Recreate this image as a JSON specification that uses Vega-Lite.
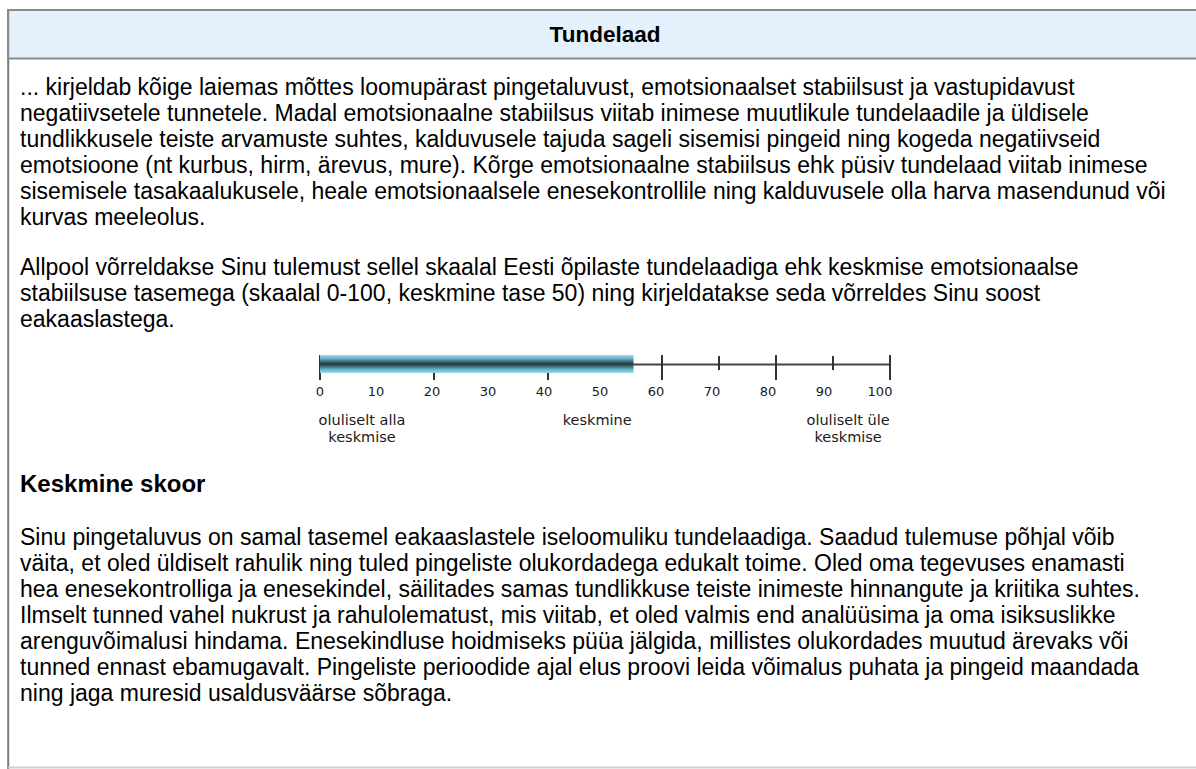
{
  "$schema": "https://vega.github.io/schema/vega-lite/v6.json",
  "width": 1196,
  "height": 769,
  "autosize": {"type": "fit", "contains": "padding"},
  "padding": 0,
  "background": "white",
  "config": {"view": {"stroke": null}},
  "datasets": {
    "para1": [
      {"line": 0, "text": "... kirjeldab kõige laiemas mõttes loomupärast pingetaluvust, emotsionaalset stabiilsust ja vastupidavust"},
      {"line": 1, "text": "negatiivsetele tunnetele. Madal emotsionaalne stabiilsus viitab inimese muutlikule tundelaadile ja üldisele"},
      {"line": 2, "text": "tundlikkusele teiste arvamuste suhtes, kalduvusele tajuda sageli sisemisi pingeid ning kogeda negatiivseid"},
      {"line": 3, "text": "emotsioone (nt kurbus, hirm, ärevus, mure). Kõrge emotsionaalne stabiilsus ehk püsiv tundelaad viitab inimese"},
      {"line": 4, "text": "sisemisele tasakaalukusele, heale emotsionaalsele enesekontrollile ning kalduvusele olla harva masendunud või"},
      {"line": 5, "text": "kurvas meeleolus."},
      {"line": 6.92, "text": "Allpool võrreldakse Sinu tulemust sellel skaalal Eesti õpilaste tundelaadiga ehk keskmise emotsionaalse"},
      {"line": 7.92, "text": "stabiilsuse tasemega (skaalal 0-100, keskmine tase 50) ning kirjeldatakse seda võrreldes Sinu soost"},
      {"line": 8.92, "text": "eakaaslastega."},
      {"line": 17.3, "text": "Sinu pingetaluvus on samal tasemel eakaaslastele iseloomuliku tundelaadiga. Saadud tulemuse põhjal võib"},
      {"line": 18.3, "text": "väita, et oled üldiselt rahulik ning tuled pingeliste olukordadega edukalt toime. Oled oma tegevuses enamasti"},
      {"line": 19.3, "text": "hea enesekontrolliga ja enesekindel, säilitades samas tundlikkuse teiste inimeste hinnangute ja kriitika suhtes."},
      {"line": 20.3, "text": "Ilmselt tunned vahel nukrust ja rahulolematust, mis viitab, et oled valmis end analüüsima ja oma isiksuslikke"},
      {"line": 21.3, "text": "arenguvõimalusi hindama. Enesekindluse hoidmiseks püüa jälgida, millistes olukordades muutud ärevaks või"},
      {"line": 22.3, "text": "tunned ennast ebamugavalt. Pingeliste perioodide ajal elus proovi leida võimalus puhata ja pingeid maandada"},
      {"line": 23.3, "text": "ning jaga muresid usaldusväärse sõbraga."}
    ],
    "headings": [
      {"line": 15.27, "text": "Keskmine skoor"}
    ],
    "header": [
      {"line": -2.04, "text": "Tundelaad"}
    ],
    "score": [
      {"score": 55}
    ],
    "majorTicks": [
      {"v": 0}, {"v": 20}, {"v": 40}, {"v": 60}, {"v": 80}, {"v": 100}
    ],
    "minorTicks": [
      {"v": 10}, {"v": 30}, {"v": 50}, {"v": 70}, {"v": 90}
    ],
    "tickLabels": [
      {"v": 0, "label": "0"}, {"v": 10, "label": "10"}, {"v": 20, "label": "20"},
      {"v": 30, "label": "30"}, {"v": 40, "label": "40"}, {"v": 50, "label": "50"},
      {"v": 60, "label": "60"}, {"v": 70, "label": "70"}, {"v": 80, "label": "80"},
      {"v": 90, "label": "90"}, {"v": 100, "label": "100"}
    ],
    "categories": [
      {"at": 7.5, "text": "oluliselt alla\nkeskmise"},
      {"at": 49.5, "text": "keskmine"},
      {"at": 94.3, "text": "oluliselt üle\nkeskmise"}
    ]
  },
  "resolve": {"scale": {"x": "independent"}},
  "layer": [
    {
      "layer": [
        {
          "data": {"values": [{"a": 1}]},
          "mark": {"type": "rect", "fill": "white", "stroke": "#7a7a7a", "strokeWidth": 2, "clip": true},
          "encoding": {
            "x": {"datum": -54.7, "type": "quantitative", "scale": {"domain": [-56.14, 153.68], "nice": false, "zero": false}, "axis": null},
            "x2": {"datum": 165},
            "y": {"datum": -3.0, "type": "quantitative", "scale": {"domain": [-3.385, 26.192], "reverse": true, "nice": false, "zero": false}, "axis": null},
            "y2": {"datum": 40}
          }
        },
        {
          "data": {"values": [{"a": 1}]},
          "mark": {"type": "rect", "fill": "#e4f0fc", "stroke": "#8a8a8a", "strokeWidth": 2, "clip": true},
          "encoding": {
            "x": {"datum": -54.7, "type": "quantitative", "scale": {"domain": [-56.14, 153.68], "nice": false, "zero": false}, "axis": null},
            "x2": {"datum": 165},
            "y": {"datum": -3.0, "type": "quantitative", "scale": {"domain": [-3.385, 26.192], "reverse": true, "nice": false, "zero": false}, "axis": null},
            "y2": {"datum": -1.135}
          }
        },
        {
          "data": {"values": [{"a": 1}]},
          "mark": {"type": "rule", "stroke": "#cfcfcf", "strokeWidth": 2, "clip": true},
          "encoding": {
            "x": {"datum": -54.7, "type": "quantitative", "scale": {"domain": [-56.14, 153.68], "nice": false, "zero": false}, "axis": null},
            "x2": {"datum": 165},
            "y": {"datum": 26.134, "type": "quantitative", "scale": {"domain": [-3.385, 26.192], "reverse": true, "nice": false, "zero": false}, "axis": null}
          }
        },
        {
          "data": {"name": "header"},
          "mark": {"type": "text", "align": "center", "baseline": "middle", "font": "Liberation Sans", "fontWeight": "bold", "fontSize": 22.5, "color": "#000"},
          "encoding": {
            "x": {"datum": 50, "type": "quantitative", "scale": {"domain": [-56.14, 153.68], "nice": false, "zero": false}, "axis": null},
            "y": {"field": "line", "type": "quantitative", "scale": {"domain": [-3.385, 26.192], "reverse": true, "nice": false, "zero": false}, "axis": null},
            "text": {"field": "text", "type": "nominal"}
          }
        },
        {
          "data": {"name": "para1"},
          "mark": {"type": "text", "align": "left", "baseline": "middle", "font": "Liberation Sans", "fontSize": 23, "color": "#000"},
          "encoding": {
            "x": {"datum": -52.63, "type": "quantitative", "scale": {"domain": [-56.14, 153.68], "nice": false, "zero": false}, "axis": null},
            "y": {"field": "line", "type": "quantitative", "scale": {"domain": [-3.385, 26.192], "reverse": true, "nice": false, "zero": false}, "axis": null},
            "text": {"field": "text", "type": "nominal"}
          }
        },
        {
          "data": {"name": "headings"},
          "mark": {"type": "text", "align": "left", "baseline": "middle", "font": "Liberation Sans", "fontWeight": "bold", "fontSize": 24, "color": "#000"},
          "encoding": {
            "x": {"datum": -52.63, "type": "quantitative", "scale": {"domain": [-56.14, 153.68], "nice": false, "zero": false}, "axis": null},
            "y": {"field": "line", "type": "quantitative", "scale": {"domain": [-3.385, 26.192], "reverse": true, "nice": false, "zero": false}, "axis": null},
            "text": {"field": "text", "type": "nominal"}
          }
        },
        {
          "data": {"values": [{"a": 1}]},
          "mark": {"type": "rule", "stroke": "#444", "strokeWidth": 2},
          "encoding": {
            "x": {"datum": 0, "type": "quantitative", "scale": {"domain": [-56.14, 153.68], "nice": false, "zero": false}, "axis": null},
            "x2": {"datum": 100},
            "y": {"datum": 10.635, "type": "quantitative", "scale": {"domain": [-3.385, 26.192], "reverse": true, "nice": false, "zero": false}, "axis": null}
          }
        },
        {
          "data": {"name": "majorTicks"},
          "mark": {"type": "rule", "stroke": "#333", "strokeWidth": 2},
          "encoding": {
            "x": {"field": "v", "type": "quantitative", "scale": {"domain": [-56.14, 153.68], "nice": false, "zero": false}, "axis": null},
            "y": {"datum": 10.27, "type": "quantitative", "scale": {"domain": [-3.385, 26.192], "reverse": true, "nice": false, "zero": false}, "axis": null},
            "y2": {"datum": 11.23}
          }
        },
        {
          "data": {"name": "minorTicks"},
          "mark": {"type": "rule", "stroke": "#333", "strokeWidth": 2},
          "encoding": {
            "x": {"field": "v", "type": "quantitative", "scale": {"domain": [-56.14, 153.68], "nice": false, "zero": false}, "axis": null},
            "y": {"datum": 10.31, "type": "quantitative", "scale": {"domain": [-3.385, 26.192], "reverse": true, "nice": false, "zero": false}, "axis": null},
            "y2": {"datum": 10.85}
          }
        },
        {
          "data": {"name": "score"},
          "mark": {
            "type": "rect",
            "fill": {
              "gradient": "linear",
              "x1": 0, "y1": 0, "x2": 0, "y2": 1,
              "stops": [
                {"offset": 0, "color": "#94dcf0"},
                {"offset": 0.18, "color": "#6fb6cc"},
                {"offset": 0.38, "color": "#3a6670"},
                {"offset": 0.5, "color": "#27393b"},
                {"offset": 0.62, "color": "#3a6670"},
                {"offset": 0.82, "color": "#6fb6cc"},
                {"offset": 1, "color": "#94dcf0"}
              ]
            }
          },
          "encoding": {
            "x": {"field": "score", "type": "quantitative", "scale": {"domain": [-56.14, 153.68], "nice": false, "zero": false}, "axis": null},
            "x2": {"datum": 0},
            "y": {"datum": 10.27, "type": "quantitative", "scale": {"domain": [-3.385, 26.192], "reverse": true, "nice": false, "zero": false}, "axis": null},
            "y2": {"datum": 10.96}
          }
        }
      ]
    },
    {
      "layer": [
        {
          "data": {"name": "tickLabels"},
          "mark": {"type": "text", "align": "center", "baseline": "middle", "font": "DejaVu Sans", "fontSize": 13, "color": "#1a1a1a"},
          "encoding": {
            "x": {"field": "v", "type": "quantitative", "scale": {"domain": [-57.14, 156.43], "nice": false, "zero": false}, "axis": null},
            "y": {"datum": 11.69, "type": "quantitative", "scale": {"domain": [-3.385, 26.192], "reverse": true, "nice": false, "zero": false}, "axis": null},
            "text": {"field": "label", "type": "nominal"}
          }
        },
        {
          "data": {"name": "categories"},
          "mark": {"type": "text", "align": "center", "baseline": "top", "lineBreak": "\n", "lineHeight": 17, "font": "DejaVu Sans", "fontSize": 14.5, "color": "#1a1a1a"},
          "encoding": {
            "x": {"field": "at", "type": "quantitative", "scale": {"domain": [-57.14, 156.43], "nice": false, "zero": false}, "axis": null},
            "y": {"datum": 12.52, "type": "quantitative", "scale": {"domain": [-3.385, 26.192], "reverse": true, "nice": false, "zero": false}, "axis": null},
            "text": {"field": "text", "type": "nominal"}
          }
        }
      ]
    }
  ]
}
